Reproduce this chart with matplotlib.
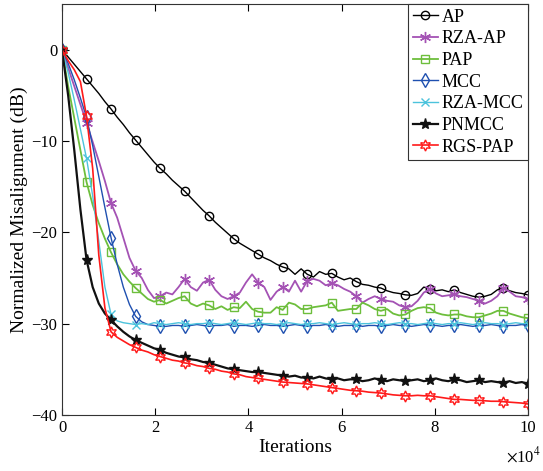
import numpy as np
import matplotlib
matplotlib.use("Agg")
import matplotlib.pyplot as plt
from matplotlib.ticker import FuncFormatter

plt.rcParams["font.family"] = ["Liberation Serif", "DejaVu Serif"]
plt.rcParams["mathtext.fontset"] = "stix"

# iteration grid, one marker every 4th sample
iterations = np.linspace(0, 100000, 77)

ap = [0, -0.8, -1.6, -2.4, -3.2, -4.0, -4.8, -5.7, -6.5, -7.4, -8.2, -9.1, -9.9,
      -10.7, -11.5, -12.3, -13.0, -13.6, -14.3, -14.9, -15.5, -16.2, -16.9, -17.6, -18.2,
      -18.9, -19.5, -20.1, -20.7, -21.2, -21.6, -22.0, -22.4, -22.8, -23.1, -23.5, -23.8,
      -24.0, -24.6, -24.0, -24.6, -24.9, -24.3, -24.6, -24.5, -24.9, -25.2, -25.0, -25.4,
      -25.7, -25.8, -26.0, -26.1, -26.4, -26.6, -26.7, -26.85, -26.9, -26.7, -26.0, -26.2,
      -26.4, -26.3, -26.5, -26.3, -26.6, -26.8, -27.0, -27.1, -27.0, -26.8, -26.3, -26.1,
      -26.4, -26.6, -26.7, -26.85]

rza_ap = [0, -2.0, -4.0, -6.0, -8.0, -10.1, -12.2, -14.4, -16.8, -18.4, -20.6, -22.8, -24.2,
          -25.0, -26.3, -27.2, -27.0, -26.6, -26.8, -26.0, -25.1, -26.0, -26.4, -25.5, -25.2,
          -26.3, -27.0, -27.3, -27.0, -26.6, -25.5, -24.6, -25.5, -26.0, -27.4, -26.5, -26.0,
          -26.5, -25.3, -26.5, -25.3, -25.1, -25.3, -25.8, -25.6, -25.8, -26.2, -26.5, -27.0,
          -27.7, -27.3, -27.0, -27.3, -27.5, -27.6, -28.0, -28.2, -28.1, -27.5, -26.6, -26.2,
          -26.7, -27.0, -26.9, -26.8, -27.0, -27.1, -27.3, -27.5, -27.8, -27.5, -27.0, -26.1,
          -26.5, -27.0, -27.1, -27.3]

pap = [0, -4.0, -7.5, -11.0, -14.5, -17.0, -19.0, -20.7, -22.2, -23.5, -24.6, -25.4, -26.1,
       -26.7, -27.3, -27.6, -27.4, -27.8, -27.5, -27.2, -27.0, -27.8, -28.1, -27.8, -28.0,
       -28.4, -28.1, -28.5, -28.2, -28.3, -27.6, -28.4, -28.7, -28.8, -28.8, -28.2, -28.5,
       -27.7, -27.9, -28.4, -28.4, -28.2, -28.1, -28.0, -27.7, -28.6, -28.5, -28.4, -28.4,
       -27.7, -28.0, -28.4, -28.6, -28.4, -28.9, -29.1, -29.0, -28.6, -28.3, -28.2, -28.3,
       -28.8, -29.0, -29.1, -29.0, -29.0, -29.2, -29.3, -29.3, -29.1, -28.9, -28.6, -28.6,
       -28.9, -29.1, -29.3, -29.4]

mcc = [0, -1.5, -3.3, -5.3, -7.4, -10.5, -13.9, -17.3, -20.6, -23.5, -26.0, -27.9, -29.2,
       -29.8, -30.1, -30.2, -30.3,
       -30.3, -30.2, -30.2, -30.3, -30.2, -30.1, -30.2, -30.3, -30.2, -30.2, -30.1, -30.3,
       -30.2, -30.2, -30.3, -30.2, -30.1, -30.2, -30.2, -30.3, -30.2, -30.1, -30.2, -30.3,
       -30.2, -30.2, -30.1, -30.2, -30.3, -30.2, -30.2, -30.1, -30.3, -30.2, -30.2, -30.3,
       -30.2, -30.1, -30.2, -30.2, -30.3, -30.2, -30.1, -30.2, -30.2, -30.3, -30.2, -30.2,
       -30.1, -30.2, -30.3, -30.2, -30.2, -30.1, -30.2, -30.3, -30.2, -30.2, -30.1, -30.2]

rza_mcc = [0, -2.5, -5.5, -8.7, -11.9, -16.0, -21.0, -26.0, -29.0, -29.7, -29.9, -30.0, -30.1,
           -30.0, -30.1, -29.9, -30.0, -30.1, -30.0, -29.9, -30.0, -30.1, -30.0, -30.0, -29.9,
           -30.0, -30.1, -30.0, -29.9, -30.0, -30.1, -30.0, -29.9, -30.0, -30.0, -30.1, -30.0,
           -29.9, -30.0, -30.1, -30.0, -30.0, -29.9, -30.0, -30.1, -30.0, -29.9, -30.0, -30.1,
           -30.0, -30.0, -29.9, -30.0, -30.1, -30.0, -29.9, -30.0, -30.0, -30.1, -30.0, -29.9,
           -30.0, -30.1, -30.0, -30.0, -29.9, -30.0, -30.1, -30.0, -29.9, -30.0, -30.0, -30.1,
           -30.0, -29.9, -30.0, -30.0]

pnmcc = [0, -5.0, -11.0, -17.5, -23.0, -26.0, -27.8, -28.9, -29.6, -30.3, -30.9, -31.4, -31.8,
         -32.1, -32.4, -32.7, -32.9, -33.2, -33.4, -33.6, -33.7, -33.9, -34.0, -34.2, -34.3,
         -34.5, -34.7, -34.9, -35.0, -35.1, -35.2, -35.3, -35.3, -35.4, -35.5, -35.6, -35.7,
         -35.8, -35.7, -35.9, -35.9, -36.0, -35.8, -36.0, -36.1, -36.0, -36.2, -36.1, -36.1,
         -36.3, -36.2, -36.0, -36.2, -36.3, -36.1, -36.2, -36.3, -36.2, -36.1, -36.3, -36.2,
         -36.0, -36.2, -36.3, -36.1, -36.2, -36.4, -36.3, -36.2, -36.4, -36.3, -36.4, -36.5,
         -36.3, -36.5, -36.4, -36.6]

rgs_pap = [0, -1.2, -2.2, -3.5, -7.3, -13.0, -22.5, -28.3, -30.9, -31.5, -31.9, -32.3, -32.6,
           -32.9, -33.1, -33.4, -33.6, -33.8, -34.0, -34.1, -34.3, -34.4, -34.6, -34.7, -34.9,
           -35.0, -35.2, -35.3, -35.5, -35.6, -35.8, -35.9, -36.0, -36.1, -36.2, -36.3, -36.4,
           -36.45, -36.5, -36.55, -36.6, -36.7, -36.8, -36.9, -37.0, -37.1, -37.2, -37.3, -37.35,
           -37.4, -37.5, -37.55, -37.6, -37.7, -37.8, -37.85, -37.9, -37.9, -37.85, -37.9, -37.9,
           -38.0, -38.1, -38.2, -38.3, -38.3, -38.35, -38.4, -38.4, -38.45, -38.5, -38.5, -38.55,
           -38.6, -38.65, -38.7, -38.8]

labels = ["AP", "RZA-AP", "PAP", "MCC", "RZA-MCC", "PNMCC", "RGS-PAP"]

fig = plt.figure(figsize=(5.43, 4.71), dpi=100)
ax = fig.add_axes([0.1142, 0.119, 0.8582, 0.8725])

styles = [
    (ap, "black", "o", 6, 1.0),
    (rza_ap, "#A452B4", (6, 2, 0), 8, 1.3),
    (pap, "#6DBE3C", "s", 6, 1.3),
    (mcc, "#1F50B0", "d", 7, 1.0),
    (rza_mcc, "#4CC3DC", "x", 6, 1.0),
    (pnmcc, "#111111", "*", 8, 1.6),
    (rgs_pap, "#FF1A1A", (6, 1, 0), 8, 1.2),
]

for (vals, color, marker, ms, lw), lab in zip(styles, labels):
    filled = marker in ["*", "x", (6, 2, 0)]
    ax.plot(iterations, vals, color=color, lw=lw, marker=marker, markevery=4,
            markersize=ms, markerfacecolor=color if filled else "none",
            markeredgewidth=1.0, label=lab)

ax.set_xlim(0, 100000)
ax.set_ylim(-40, 5)
ax.set_xticks([0, 20000, 40000, 60000, 80000, 100000])
ax.xaxis.set_major_formatter(FuncFormatter(lambda v, p: f"{v / 1e4:g}"))
ax.set_yticks([0, -10, -20, -30, -40])
ax.tick_params(direction="in", top=True, right=True, labelsize=12, length=5, width=0.8)
for sp in ax.spines.values():
    sp.set_linewidth(0.8)
    sp.set_color("#333333")

ax.set_xlabel("Iterations", fontsize=14, labelpad=2)
ax.set_ylabel("Normalized Misalignment (dB)", fontsize=14, labelpad=2)
ax.text(0.952, -0.075, r"$\times$10$^{4}$", transform=ax.transAxes, fontsize=12,
        ha="left", va="top")

leg = ax.legend(loc="upper right", fontsize=13, borderaxespad=0, fancybox=False,
                framealpha=1, edgecolor="#333333", handlelength=1.4, handletextpad=0.2,
                labelspacing=0.26, borderpad=0.25)
leg.get_frame().set_linewidth(0.8)

fig.savefig("out.png", dpi=100)
